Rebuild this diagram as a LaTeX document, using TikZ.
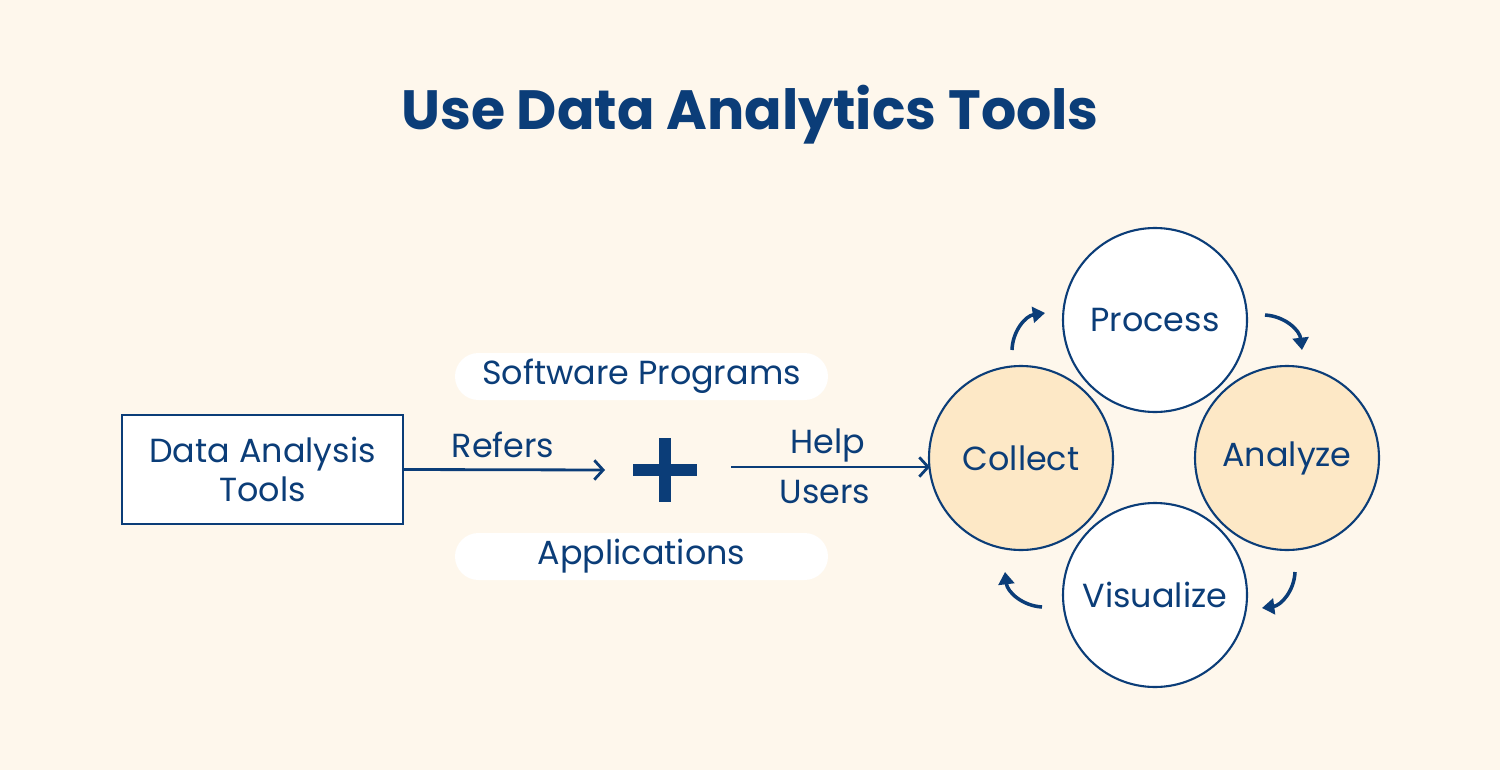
\documentclass[tikz,border=0pt]{standalone}
\usepackage{fontspec}
\setmainfont{Poppins}
\usetikzlibrary{arrows.meta}
\definecolor{bg}{HTML}{FEF7EC}
\definecolor{navy}{HTML}{0B3D78}
\definecolor{peach}{HTML}{FDE8C6}
\begin{document}
\begin{tikzpicture}[x=0.02cm,y=-0.02cm,
  txt/.style={text=navy,font=\fontsize{19}{23}\selectfont},
  circ/.style={circle,draw=navy,line width=1.2pt,minimum size=184*0.02cm,inner sep=0pt,txt},
  pill/.style={fill=white,rounded corners=0.47cm,minimum width=373*0.02cm,minimum height=47*0.02cm,txt},
  arr/.style={draw=navy,line width=1.6pt,-{Straight Barb[length=5pt,width=11pt]}},
  carr/.style={draw=navy,line width=2pt,-{Triangle[length=7pt,width=9pt]}}]
\fill[bg] (0,0) rectangle (1500,770);
\useasboundingbox (0,0) rectangle (1500,770);
\node[text=navy,font=\bfseries\fontsize{31.5}{36}\selectfont] (title) at (750,115) {Use Data Analytics Tools};
\node[draw=navy,line width=1pt,fill=white,minimum width=281*0.02cm,minimum height=109*0.02cm,align=center,txt] (box) at (262.5,469.5) {Data Analysis\\[-1pt]Tools};
\node[pill] (sw) at (641.5,376.5) {Software Programs};
\node[pill] (app) at (641.5,556.5) {Applications};
\node (plus) at (665,470) {};
\draw[navy,line width=7pt] (633,470) -- (697,470) (665,438) -- (665,502);
\coordinate (a1) at (605,470);
\draw[arr] (box.east) -- (a1);
\node[txt] (refers) at (503,445) {Refers};
\coordinate (a2s) at (731,467);
\coordinate (a2e) at (930,467);
\node[circ,fill=white] (process) at (1155,320) {Process};
\node[circ,fill=peach] (collect) at (1021,458) {Collect};
\node[circ,fill=peach] (analyze) at (1287,458) {Analyze};
\node[circ,fill=white] (visual) at (1155,595) {Visualize};
\draw[arr] (a2s) -- (a2e);
\node[txt] (help) at (828,445) {Help};
\node[txt] (users) at (825,492) {Users};
\coordinate (c1a) at (1012,350); \coordinate (c1b) at (1045,313);
\coordinate (c2a) at (1265,315); \coordinate (c2b) at (1302,350);
\coordinate (c3a) at (1295,572); \coordinate (c3b) at (1262,608);
\coordinate (c4a) at (1042,607); \coordinate (c4b) at (1005,572);
\draw[carr] (c1a) to[bend left=40] (c1b);
\draw[carr] (c2a) to[bend left=40] (c2b);
\draw[carr] (c3a) to[bend left=40] (c3b);
\draw[carr] (c4a) to[bend left=40] (c4b);
\end{tikzpicture}
\end{document}
